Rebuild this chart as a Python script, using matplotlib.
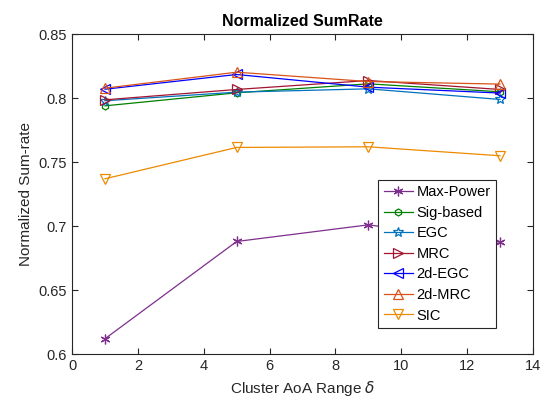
import matplotlib.pyplot as plt

plt.rcParams['font.family'] = ['Liberation Sans', 'DejaVu Sans']

delta = [1, 5, 9, 13]
max_power = [0.612, 0.688, 0.701, 0.6875]
sig_based = [0.794, 0.8042, 0.8112, 0.805]
egc = [0.798, 0.8047, 0.8073, 0.799]
mrc = [0.7987, 0.8068, 0.8138, 0.8068]
egc_2d = [0.807, 0.8185, 0.8086, 0.804]
mrc_2d = [0.8078, 0.8203, 0.813, 0.811]
sic = [0.737, 0.7615, 0.762, 0.755]

# (name, values, colour, marker, marker size)
series = [
    ("Max-Power", max_power, "#7E2F8E", (6, 2, 0), 7),
    ("Sig-based", sig_based, "#008000", "h", 5),
    ("EGC", egc, "#0072BD", "*", 7),
    ("MRC", mrc, "#A2142F", ">", 7),
    ("2d-EGC", egc_2d, "#0000FF", "<", 7),
    ("2d-MRC", mrc_2d, "#D95319", "^", 7),
    ("SIC", sic, "#EE8A00", "v", 7),
]

fig = plt.figure(figsize=(5.5, 4.07), dpi=100)
ax = fig.add_axes([0.131, 0.130, 0.838, 0.786])

for name, vals, col, mk, ms in series:
    ax.plot(delta, vals, color=col, marker=mk, markersize=ms, markerfacecolor='none',
            markeredgecolor=col, markeredgewidth=0.9, linewidth=0.9, label=name)

ax.set_xlim(0, 14)
ax.set_ylim(0.6, 0.85)
ax.set_xticks(range(0, 15, 2))
ax.set_yticks([0.6, 0.65, 0.7, 0.75, 0.8, 0.85])
ax.set_yticklabels(["0.6", "0.65", "0.7", "0.75", "0.8", "0.85"])
ax.tick_params(direction='in', top=True, right=True, labelsize=10.5, colors='#262626', length=4)
for s in ax.spines.values():
    s.set_color('#262626')
    s.set_linewidth(0.8)

ax.set_xlabel(r"Cluster AoA Range $\delta$", fontsize=11, color='#262626')
ax.set_ylabel("Normalized Sum-rate", fontsize=11, color='#262626')
ax.set_title("Normalized SumRate", fontsize=11.5, fontweight='bold')

leg = ax.legend(loc='upper right', bbox_to_anchor=(0.919, 0.544), fontsize=10.5,
                fancybox=False, framealpha=1, edgecolor='#262626', handlelength=2.0,
                borderaxespad=0, labelspacing=0.45, handletextpad=0.25, borderpad=0.35)
leg.get_frame().set_linewidth(0.8)

fig.savefig("out.png", dpi=100)
